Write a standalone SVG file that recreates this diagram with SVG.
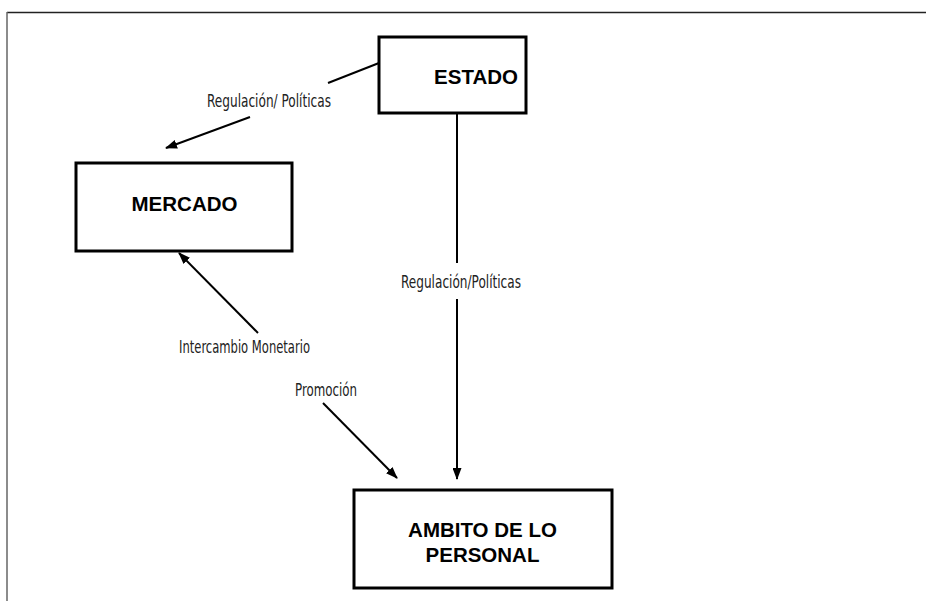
<svg xmlns="http://www.w3.org/2000/svg" width="926" height="601" viewBox="0 0 926 601">
<style>
.box{fill:#fff;stroke:#000;stroke-width:3}
.title{font-family:"Liberation Sans",Arial,sans-serif;font-weight:bold;font-size:20.5px;fill:#000;text-anchor:middle}
.lbl{font-family:"DejaVu Sans Condensed","Liberation Sans",sans-serif;font-size:17px;fill:#222}
.ln{stroke:#000;stroke-width:2;fill:none}
</style>
<defs>
<marker id="ah" markerWidth="12" markerHeight="9" refX="11" refY="4.5" orient="auto" markerUnits="userSpaceOnUse">
<path d="M0,0 L12,4.5 L0,9 Z" fill="#000"/>
</marker>
</defs>
<rect width="926" height="601" fill="#fff"/>
<g id="frame">
<line x1="7" y1="12.5" x2="926" y2="12.5" stroke="#222" stroke-width="1.5"/>
<line x1="7" y1="12" x2="7" y2="601" stroke="#666" stroke-width="1.5"/>
</g>
<g id="connectors">
<line class="ln" x1="379" y1="63" x2="328" y2="83"/>
<line class="ln" x1="250" y1="117" x2="166" y2="148" marker-end="url(#ah)"/>
<text class="lbl" x="207" y="107" textLength="124" lengthAdjust="spacingAndGlyphs">Regulación/ Políticas</text>
<line class="ln" x1="457" y1="113" x2="457" y2="263"/>
<line class="ln" x1="457" y1="299" x2="457" y2="479" marker-end="url(#ah)"/>
<text class="lbl" x="401" y="288" textLength="120" lengthAdjust="spacingAndGlyphs">Regulación/Políticas</text>
<line class="ln" x1="258" y1="333" x2="179" y2="253" marker-end="url(#ah)"/>
<text class="lbl" x="179" y="353" textLength="131" lengthAdjust="spacingAndGlyphs">Intercambio Monetario</text>
<line class="ln" x1="323" y1="403" x2="397" y2="478" marker-end="url(#ah)"/>
<text class="lbl" x="295" y="396" textLength="62" lengthAdjust="spacingAndGlyphs">Promoción</text>
</g>
<g id="estado">
<rect class="box" x="379" y="37" width="147" height="76"/>
<text class="title" x="476" y="84">ESTADO</text>
</g>
<g id="mercado">
<rect class="box" x="76" y="163" width="216" height="88"/>
<text class="title" x="184.5" y="211">MERCADO</text>
</g>
<g id="ambito">
<rect class="box" x="354" y="490" width="258" height="98"/>
<text class="title" x="482.5" y="537">AMBITO DE LO</text>
<text class="title" x="482.5" y="562">PERSONAL</text>
</g>
</svg>
